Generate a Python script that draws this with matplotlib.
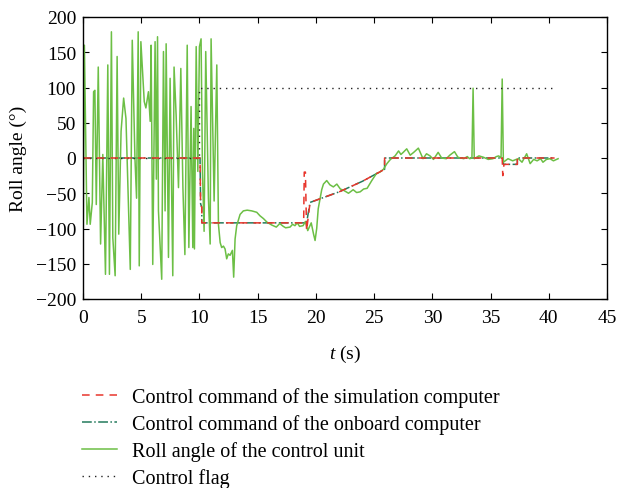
import numpy as np
import matplotlib
matplotlib.use("Agg")
import matplotlib.pyplot as plt

plt.rcParams['font.family'] = 'Liberation Serif'
plt.rcParams['mathtext.fontset'] = 'custom'
plt.rcParams['mathtext.it'] = 'Liberation Serif:italic'
plt.rcParams['mathtext.rm'] = 'Liberation Serif'

# commande du calculateur de simulation
sim_t = [0, 10.05, 10.1, 10.2, 10.2, 18.95, 19.0, 19.1, 19.2, 19.5, 20.0, 22.0, 24.0, 25.9, 25.9,
         36.0, 36.05, 36.15, 37.3, 37.3, 40.5]
sim_v = [0, 0, -65, -70, -92, -92, -20, -20, -103, -63, -60, -48, -33, -16, 0,
         0, -25, -9, -9, 0, 0]

# commande du calculateur embarque
onb_t = [0, 10.05, 10.1, 10.2, 10.2, 19.2, 19.5, 20.0, 22.0, 24.0, 25.9, 25.9,
         36.05, 36.1, 37.3, 37.3, 40.5]
onb_v = [0, 0, -65, -70, -92, -92, -63, -60, -48, -33, -16, 0,
         0, -9, -9, 0, 0]

# angle de roulis mesure
roll_t = [0.0, 0.12, 0.34, 0.51, 0.62, 0.8, 0.91, 1.02, 1.14, 1.31, 1.51, 1.70, 1.93, 2.13,
          2.27, 2.44, 2.56, 2.76, 2.93, 3.07, 3.27, 3.49, 3.69, 3.89, 4.06, 4.23, 4.46, 4.60,
          4.74, 4.83, 4.97, 5.26, 5.40, 5.62, 5.77, 5.85, 5.99, 6.19, 6.30, 6.40, 6.48, 6.76,
          6.91, 7.05, 7.14, 7.34, 7.48, 7.71, 7.82, 8.0, 8.2, 8.4, 8.58, 8.75, 8.95, 9.09,
          9.28, 9.43, 9.51, 9.57, 9.72, 9.86, 10.0, 10.14, 10.26, 10.4, 10.54, 10.77, 10.92,
          11.0, 11.26, 11.49, 11.63, 11.78, 11.91, 12.06, 12.2, 12.34, 12.48, 12.63, 12.83,
          12.94, 13.06, 13.2, 13.49, 13.77, 14.1, 14.49, 14.92, 15.2, 15.5, 15.8, 16.2, 16.6,
          16.9, 17.2, 17.4, 17.78, 18.0, 18.2, 18.4, 18.6, 18.9, 19.1, 19.3, 19.6, 19.8,
          19.93, 20.07, 20.2, 20.5, 20.65, 20.93, 21.2, 21.5, 21.8, 22.1, 22.4, 22.8, 23.2,
          23.5, 23.8, 24.1, 24.4, 24.8, 25.2, 25.5, 25.8, 26.1, 26.4, 26.8, 27.1, 27.3, 27.5,
          27.8, 28.1, 28.4, 28.8, 29.2, 29.5, 29.8, 30.1, 30.5, 30.8, 31.2, 31.5, 31.9, 32.2,
          32.7, 33.0, 33.2, 33.4, 33.5, 33.6, 34.0, 34.4, 34.8, 35.2, 35.5, 35.7, 35.9, 36.0,
          36.1, 36.5, 36.9, 37.2, 37.4, 37.7, 38.1, 38.4, 38.7, 39.0, 39.3, 39.5, 39.8, 40.1,
          40.4, 40.8]
roll_v = [-150, 160, -94, -56, -94, -63, 94, 96, -66, 129, -122, 5, -165, 132,
          -165, 179, -113, -167, 144, -108, 38, 85, 56, -57, -158, 167, 0, -57,
          179, -153, 165, 80, 71, 94, 52, 160, -151, 165, -30, 172, -75, -172,
          151, -75, 162, -141, 113, -167, 129, 60, -42, 127, -42, -137, 160, -127,
          73, -127, 42, -129, 158, -19, 158, 169, -20, -104, 151, -57, -122,
          169, -61, 132, -94, -120, -127, -125, -129, -143, -136, -138, -131,
          -169, -115, -96, -80, -75, -74, -75, -77, -82, -86, -91, -95, -98,
          -93, -97, -99, -98, -94, -96, -92, -97, -96, -90, -103, -92, -108,
          -117, -100, -72, -45, -37, -32, -38, -41, -37, -44, -46, -50, -45,
          -49, -48, -44, -43, -32, -22, -20, -16, -8, -2, 3, 10, 5, 8,
          13, 4, 8, 14, -1, 6, 3, -2, 8, 0, -1, 4, 9, 1,
          -1, 2, -1, 0, 99, -1, 3, 1, -2, -1, 2, 3, 0, 112,
          -6, -1, -4, -2, -1, -6, 6, -8, -2, -4, -1, -6, -2, -1,
          -4, -1]

# drapeau de controle
flag_t = [0, 10.0, 10.0, 40.5]
flag_v = [0, 0, 100, 100]

fig = plt.figure(figsize=(6.23, 4.89), dpi=100)
ax = fig.add_axes([83/623, 1-300/489, 524/623, 282/489])

l_onb, = ax.plot(onb_t, onb_v, color='#237a5c', ls='-.', lw=1.1)
l_roll, = ax.plot(roll_t, roll_v, color='#6cbf45', lw=1.1)
l_flag, = ax.plot(flag_t, flag_v, color='#222222', ls=(0, (1, 3.5)), lw=1.0)
l_sim, = ax.plot(sim_t, sim_v, color='#e8352c', ls=(0, (5, 4)), lw=1.1)

ax.set_xlim(0, 45)
ax.set_ylim(-200, 200)
ax.set_xticks(np.arange(0, 46, 5))
ax.set_yticks(np.arange(-200, 201, 50))
ax.tick_params(direction='in', top=True, right=True, labelsize=14, length=4)
ax.tick_params(axis='x', pad=7)
ax.tick_params(axis='y', pad=5)
for s in ax.spines.values():
    s.set_linewidth(1.0)

ax.set_xlabel(r'$t$ (s)', fontsize=14)
ax.set_ylabel('Roll angle (°)', fontsize=14)
ax.xaxis.set_label_coords(0.5, -0.155)
ax.yaxis.set_label_coords(-0.107, 0.5)

fig.legend([l_sim, l_onb, l_roll, l_flag],
           ['Control command of the simulation computer',
            'Control command of the onboard computer',
            'Roll angle of the control unit',
            'Control flag'],
           loc='upper left', bbox_to_anchor=(82/623, 1-388/489), frameon=False,
           fontsize=14.5, handlelength=1.75, labelspacing=0.36, handletextpad=0.75,
           borderpad=0, borderaxespad=0)

fig.savefig('out.png', dpi=100)
